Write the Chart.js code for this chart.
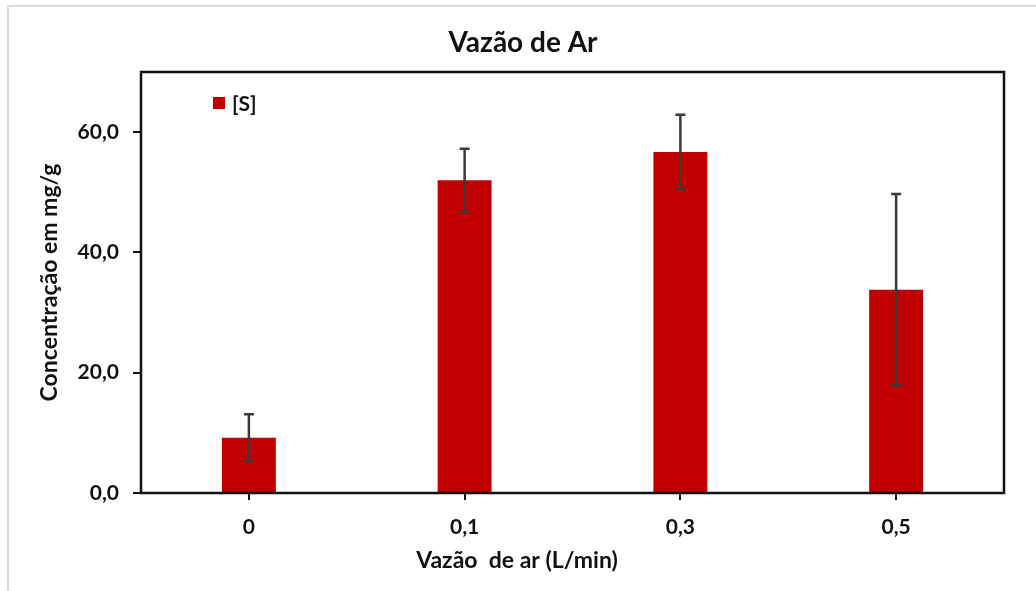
<!DOCTYPE html>
<html>
<head>
<meta charset="utf-8">
<script src="https://cdn.jsdelivr.net/npm/chart.js@4"></script>
<style>
  html, body { margin: 0; padding: 0; background: #fff; overflow: hidden; }
  #frame { position: absolute; left: 7px; top: 5px; width: 1100px; height: 700px; border-left: 2px solid #d9d9d9; border-top: 2px solid #d9d9d9; }
  #wrap { position: absolute; left: 0; top: 0; width: 1036px; height: 591px; }
</style>
</head>
<body>
<div id="frame"></div>
<div id="wrap"><canvas id="myChart" width="1036" height="591"></canvas></div>
<script>
const labels = ['0', '0,1', '0,3', '0,5'];
const values = [9.2, 52.0, 56.7, 33.8];
const errors = [3.9, 5.25, 6.2, 15.9];
const yTicks = [0, 20, 40, 60];

const chartTitle = 'Vazão de Ar';
const xTitle = 'Vazão  de ar (L/min)';

const fmt = v => v.toFixed(1).replace('.', ',');
const FONT = 'Lato, "Open Sans", sans-serif';

// frame round the plot area, error bars, legend and the titles (placed like the Excel original)
const extras = {
  id: 'extras',
  afterDatasetsDraw(chart) {
    const ctx = chart.ctx;
    const x = chart.scales.x, y = chart.scales.y;
    ctx.save();
    values.forEach((v, i) => {
      const cx = x.getPixelForValue(i);
      const top = y.getPixelForValue(v + errors[i]);
      const bot = y.getPixelForValue(v - errors[i]);
      ctx.strokeStyle = '#3a3a3a';
      ctx.lineWidth = 2.5;
      ctx.beginPath();
      ctx.moveTo(cx, top); ctx.lineTo(cx, bot);
      ctx.moveTo(cx - 5, top); ctx.lineTo(cx + 5, top);
      ctx.moveTo(cx - 5, bot); ctx.lineTo(cx + 5, bot);
      ctx.stroke();
    });
    const a = chart.chartArea;
    ctx.strokeStyle = '#111';
    ctx.lineWidth = 2.5;
    ctx.strokeRect(a.left, a.top, a.right - a.left, a.bottom - a.top);
    // legend
    ctx.fillStyle = '#c00000';
    ctx.fillRect(213, 97, 12, 12);
    ctx.fillStyle = '#111';
    ctx.font = 'bold 21px ' + FONT;
    ctx.textBaseline = 'middle';
    ctx.textAlign = 'left';
    ctx.fillText(chart.data.datasets[0].label, 232, 104);
    // titles
    ctx.textAlign = 'center';
    ctx.font = 'bold 28px ' + FONT;
    ctx.fillText(chartTitle, 523, 43);
    ctx.font = 'bold 23px ' + FONT;
    ctx.fillText(xTitle, 517, 561);
    ctx.restore();
  }
};

const ctx = document.getElementById('myChart').getContext('2d');
const myChart = new Chart(ctx, {
  type: 'bar',
  data: {
    labels: labels,
    datasets: [{
      label: '[S]',
      data: values,
      backgroundColor: '#c00000',
      barPercentage: 0.25,
      categoryPercentage: 1.0
    }]
  },
  options: {
    responsive: false,
    animation: false,
    layout: { padding: { left: 0, right: 32, top: 72, bottom: 0 } },
    plugins: {
      legend: { display: false },
      tooltip: { enabled: false },
      title: { display: false }
    },
    scales: {
      x: {
        offset: true,
        grid: { offset: false, drawOnChartArea: false, tickLength: 7, color: '#111', lineWidth: 2 },
        border: { display: false },
        ticks: { color: '#111', padding: 15, font: { family: FONT, size: 21, weight: 'bold' } },
        afterFit(s) { s.height = 98; }
      },
      y: {
        min: 0,
        max: 70,
        grid: { drawOnChartArea: false, tickLength: 8, color: '#111', lineWidth: 2 },
        border: { display: false },
        afterBuildTicks(s) { s.ticks = yTicks.map(v => ({ value: v })); },
        ticks: {
          color: '#111',
          padding: 14,
          font: { family: FONT, size: 21, weight: 'bold' },
          callback: v => fmt(v)
        },
        title: {
          display: true,
          text: 'Concentração em mg/g',
          color: '#111',
          font: { family: FONT, size: 23, weight: 'bold' },
          padding: { top: 36, bottom: 0 }
        },
        afterFit(s) { s.width = 141; }
      }
    }
  },
  plugins: [extras]
});
</script>
</body>
</html>
